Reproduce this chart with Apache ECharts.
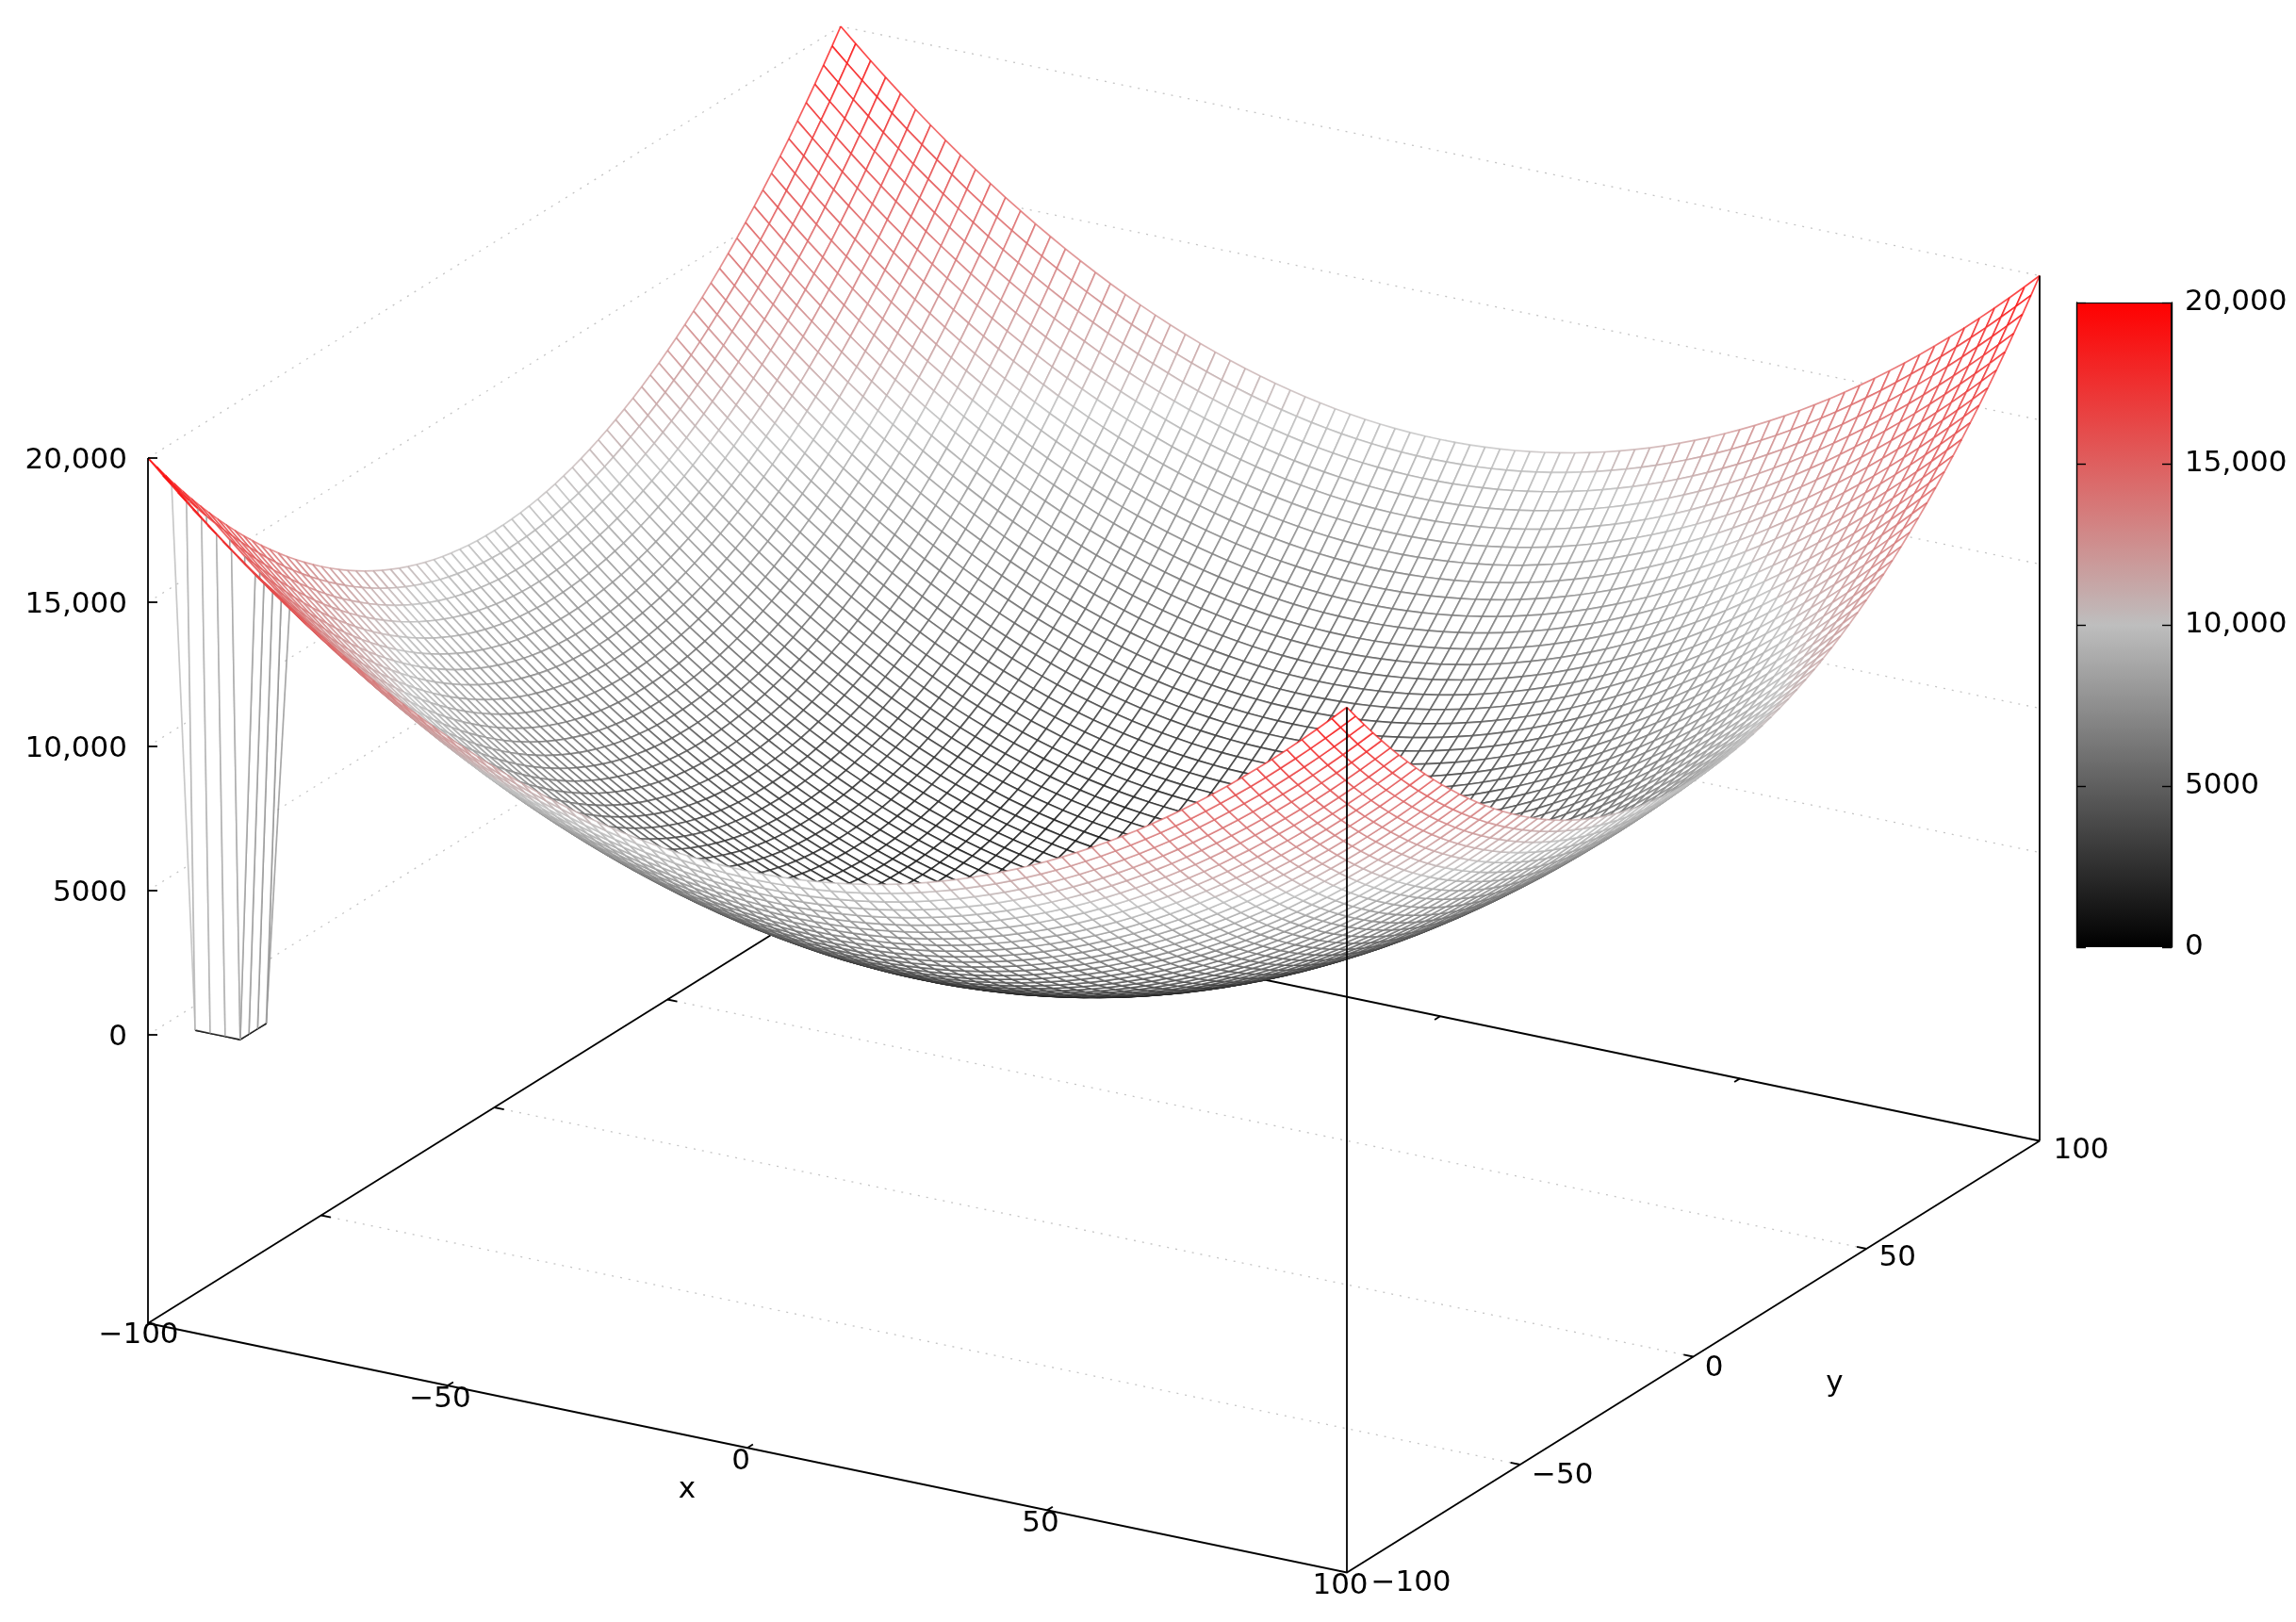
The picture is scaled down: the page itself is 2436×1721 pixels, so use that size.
<!DOCTYPE html>
<html>
<head>
<meta charset="utf-8">
<style>html,body{margin:0;padding:0;background:#fff}#c{width:2436px;height:1721px;filter:blur(0.6px)}</style>
<script src="https://cdn.jsdelivr.net/npm/echarts@6/dist/echarts.min.js"></script>
</head>
<body>
<div id="c"></div>
<script>
// Mesh sample positions (one step = 2.5 units)
const gridX = [-100,-97.5,-95,-92.5,-90,-87.5,-85,-82.5,-80,-77.5,-75,-72.5,-70,-67.5,-65,-62.5,-60,-57.5,-55,-52.5,-50,-47.5,-45,-42.5,-40,-37.5,-35,-32.5,-30,-27.5,-25,-22.5,-20,-17.5,-15,-12.5,-10,-7.5,-5,-2.5,0,2.5,5,7.5,10,12.5,15,17.5,20,22.5,25,27.5,30,32.5,35,37.5,40,42.5,45,47.5,50,52.5,55,57.5,60,62.5,65,67.5,70,72.5,75,77.5,80,82.5,85,87.5,90,92.5,95,97.5,100];
const gridY = gridX.slice();
// Height contributed by each mesh column / row
const heightX = [10000,9506.25,9025,8556.25,8100,7656.25,7225,6806.25,6400,6006.25,5625,5256.25,4900,4556.25,4225,3906.25,3600,3306.25,3025,2756.25,2500,2256.25,2025,1806.25,1600,1406.25,1225,1056.25,900,756.25,625,506.25,400,306.25,225,156.25,100,56.25,25,6.25,0,6.25,25,56.25,100,156.25,225,306.25,400,506.25,625,756.25,900,1056.25,1225,1406.25,1600,1806.25,2025,2256.25,2500,2756.25,3025,3306.25,3600,3906.25,4225,4556.25,4900,5256.25,5625,6006.25,6400,6806.25,7225,7656.25,8100,8556.25,9025,9506.25,10000];
const heightY = heightX.slice();
// The pit near the left corner: these samples sit at the floor value
const pitX = [-95,-92.5,-90,-87.5];
const pitY = [-95,-92.5,-90,-87.5];
const pitZ = 0;
// Axis ticks and labels
const xTicks = [-100,-50,0,50,100];
const yTicks = [-100,-50,0,50,100];
const zTicks = [0,5000,10000,15000,20000];
const zBase = -10000;
const zTop = 20000;
const paletteValues = [0,10000,20000];
const paletteColors = [[0,0,0],[190,190,190],[255,0,0]];

// ---- orthographic view ----
const FONT = '31px "DejaVu Sans"';
function project(x, y, z) {
  return [157 + (x + 100) * 6.36 + (y + 100) * 3.675,
          1098 + (x + 100) * 1.3225 - (y + 100) * 2.29 - z * 0.0306];
}
function fmt(v) {
  const a = Math.abs(v);
  const s = a >= 10000 ? Math.floor(a / 1000) + ',' + String(a % 1000).padStart(3, '0') : String(a);
  return (v < 0 ? '\u2212' : '') + s;
}
function paletteColor(z) {
  const t = Math.max(0, Math.min(20000, z));
  const k = t <= paletteValues[1] ? 0 : 1;
  const f = (t - paletteValues[k]) / (paletteValues[k + 1] - paletteValues[k]);
  const a = paletteColors[k], b = paletteColors[k + 1];
  return 'rgb(' + [0, 1, 2].map(n => Math.round(a[n] + (b[n] - a[n]) * f)).join(',') + ')';
}
function zAt(i, j) {
  if (pitX.indexOf(gridX[i]) >= 0 && pitY.indexOf(gridY[j]) >= 0) return pitZ;
  return heightX[i] + heightY[j];
}

// Cells far-to-near: x ascending, y descending
const cells = [];
for (let i = 0; i < gridX.length - 1; i++) {
  for (let j = gridY.length - 2; j >= 0; j--) cells.push([i, j]);
}
function segStyle(z) { return { stroke: paletteColor(z), lineWidth: 1.7, opacity: 0.75, fill: null }; }

// Two pit corners join their neighbours across the cell diagonal
const iA = gridX.indexOf(pitX[0]), jA = gridY.indexOf(pitY[0]);
const iB = gridX.indexOf(pitX[3]), jB = gridY.indexOf(pitY[3]);

function renderCell(params, api) {
  const c = cells[params.dataIndex], i = c[0], j = c[1];
  const corners = [[i, j], [i + 1, j], [i + 1, j + 1], [i, j + 1]];
  const zs = corners.map(p => zAt(p[0], p[1]));
  const pts = corners.map((p, n) => api.coord(project(gridX[p[0]], gridY[p[1]], zs[n])));
  const children = [{ type: 'polygon', shape: { points: pts }, style: { fill: '#ffffff', stroke: null }, silent: true }];
  let skip = -1, diag = null;
  if (i === iA - 1 && j === jA - 1) { skip = 2; diag = [0, 2]; }
  if (i === iA - 1 && j === jA) { skip = 0; }
  if (i === iB && j === jB) { skip = 3; diag = [0, 2]; }
  if (i === iB - 1 && j === jB) { skip = 1; }
  for (let n = 0; n < 4; n++) {
    if (n === skip) continue;
    const m = (n + 1) % 4;
    children.push({
      type: 'line', silent: true,
      shape: { x1: pts[n][0], y1: pts[n][1], x2: pts[m][0], y2: pts[m][1] },
      style: segStyle((zs[n] + zs[m]) / 2)
    });
  }
  if (diag) {
    const a = diag[0], b = diag[1];
    children.push({
      type: 'line', silent: true,
      shape: { x1: pts[a][0], y1: pts[a][1], x2: pts[b][0], y2: pts[b][1] },
      style: segStyle((zs[a] + zs[b]) / 2)
    });
  }
  return { type: 'group', children: children };
}

// ---- frame: each item is a 3-D polyline or a tick ----
const DOT = { stroke: '#c4c4c4', lineWidth: 1.3, lineDash: [2, 7], fill: null };
const SOLID = { stroke: '#000', lineWidth: 1.8, fill: null };
const xMin = gridX[0], xMax = gridX[80], yMin = gridY[0], yMax = gridY[80];
const backItems = [], frontItems = [];
zTicks.forEach(z => {
  backItems.push({ p: [[xMin, yMin, z], [xMin, yMax, z], [xMax, yMax, z]], s: DOT });
});
xTicks.slice(1, -1).forEach(x => {
  backItems.push({ p: [[x, yMin, zBase], [x, yMin + 1.6, zBase]], s: SOLID });
  backItems.push({ p: [[x, yMax, zBase], [x, yMax - 1.6, zBase]], s: SOLID });
});
yTicks.slice(1, -1).forEach(y => {
  backItems.push({ p: [[xMin, y, zBase], [xMax, y, zBase]], s: DOT });
  backItems.push({ p: [[xMin, y, zBase], [xMin + 1.6, y, zBase]], s: SOLID });
  backItems.push({ p: [[xMax, y, zBase], [xMax - 1.6, y, zBase]], s: SOLID });
});
backItems.push({ p: [[xMin, yMin, zBase], [xMin, yMax, zBase], [xMax, yMax, zBase]], s: SOLID });
frontItems.push({ p: [[xMin, yMin, zBase], [xMax, yMin, zBase], [xMax, yMax, zBase]], s: SOLID });
frontItems.push({ p: [[xMin, yMin, zTop], [xMin, yMin, zBase]], s: SOLID });
frontItems.push({ p: [[xMax, yMin, zTop], [xMax, yMin, zBase]], s: SOLID });
frontItems.push({ p: [[xMax, yMax, zTop], [xMax, yMax, zBase]], s: SOLID });
zTicks.forEach(z => {
  frontItems.push({ p: [[xMin, yMin, z]], tick: 10, s: SOLID });
});
function renderFrame(items) {
  return function (params, api) {
    const it = items[params.dataIndex];
    const pts = it.p.map(q => api.coord(project(q[0], q[1], q[2])));
    if (it.tick) pts.push([pts[0][0] + it.tick, pts[0][1]]);
    return { type: 'polyline', silent: true, shape: { points: pts }, style: it.s };
  };
}

// ---- labels ----
const xLabelShift = [[-10, 13], [-8, 15], [-7, 15], [-7, 15], [-7, 14]];
const yLabelShift = [[68, 11], [45, 12], [22, 12], [33, 10], [44, 10]];
const labels = [];
zTicks.forEach(z => {
  const q = project(xMin, yMin, z);
  labels.push({ q: [q[0] - 22, q[1] + 3], t: fmt(z), a: 'right' });
});
xTicks.forEach((x, n) => {
  const q = project(x, yMin, zBase);
  labels.push({ q: [q[0] + xLabelShift[n][0], q[1] + xLabelShift[n][1]], t: fmt(x), a: 'center' });
});
yTicks.forEach((y, n) => {
  const q = project(xMax, y, zBase);
  labels.push({ q: [q[0] + yLabelShift[n][0], q[1] + yLabelShift[n][1]], t: fmt(y), a: 'center' });
});
const xMid = project(0, yMin, zBase), yMid = project(xMax, 0, zBase);
labels.push({ q: [xMid[0] - 64, xMid[1] + 45], t: 'x', a: 'center' });
labels.push({ q: [yMid[0] + 150, yMid[1] + 28], t: 'y', a: 'center' });
function renderLabel(params, api) {
  const l = labels[params.dataIndex];
  const c = api.coord(l.q);
  return { type: 'text', silent: true, style: { text: l.t, x: c[0], y: c[1], fill: '#000', font: FONT, textAlign: l.a, textVerticalAlign: 'middle' } };
}

function customSeries(name, items, fn, z) {
  return {
    type: 'custom', name: name, coordinateSystem: 'cartesian2d', xAxisIndex: 0, yAxisIndex: 0,
    data: items.map((_, n) => [n, n]), encode: { x: 0, y: 1 },
    renderItem: fn, z: z, clip: false, silent: true, animation: false, progressive: 0
  };
}

const chart = echarts.init(document.getElementById('c'), null, { renderer: 'canvas', width: 2436, height: 1721 });
chart.setOption({
  backgroundColor: '#ffffff',
  animation: false,
  tooltip: { show: false },
  grid: [
    { left: 0, top: 0, width: 2436, height: 1721, containLabel: false },
    { left: 2203, top: 321, width: 101, height: 684, containLabel: false }
  ],
  xAxis: [
    { gridIndex: 0, type: 'value', min: 0, max: 2436, show: false },
    { gridIndex: 1, type: 'category', data: ['z'], show: false }
  ],
  yAxis: [
    { gridIndex: 0, type: 'value', min: 0, max: 1721, inverse: true, show: false },
    { gridIndex: 1, type: 'value', min: 0, max: 20000, interval: 5000, position: 'right', z: 6,
      splitLine: { show: false },
      axisLine: { show: true, onZero: false, lineStyle: { color: '#000', width: 1.4 } },
      axisTick: { show: true, inside: true, length: 10, lineStyle: { color: '#000', width: 1.4 } },
      axisLabel: { show: true, margin: 14, color: '#000', fontFamily: 'DejaVu Sans', fontSize: 31, padding: [4, 0, 0, 0], formatter: v => fmt(v),
                   showMinLabel: true, showMaxLabel: true } },
    { gridIndex: 1, type: 'value', min: 0, max: 20000, interval: 5000, position: 'left', z: 6,
      splitLine: { show: false },
      axisLine: { show: true, onZero: false, lineStyle: { color: '#000', width: 1.4 } },
      axisTick: { show: true, inside: true, length: 10, lineStyle: { color: '#000', width: 1.4 } },
      axisLabel: { show: false } }
  ],
  series: [
    customSeries('frameBack', backItems, renderFrame(backItems), 1),
    customSeries('surface', cells, renderCell, 2),
    customSeries('frameFront', frontItems, renderFrame(frontItems), 3),
    customSeries('labels', labels, renderLabel, 4),
    {
      type: 'bar', name: 'colorbar', xAxisIndex: 1, yAxisIndex: 1, data: [zTop], barWidth: '100%', z: 2, silent: true, animation: false,
      itemStyle: {
        borderColor: '#000', borderWidth: 1,
        color: new echarts.graphic.LinearGradient(0, 0, 0, 1, [
          { offset: 0, color: paletteColor(20000) },
          { offset: 0.5, color: paletteColor(10000) },
          { offset: 1, color: paletteColor(0) }
        ])
      }
    }
  ]
});
</script>
</body>
</html>
